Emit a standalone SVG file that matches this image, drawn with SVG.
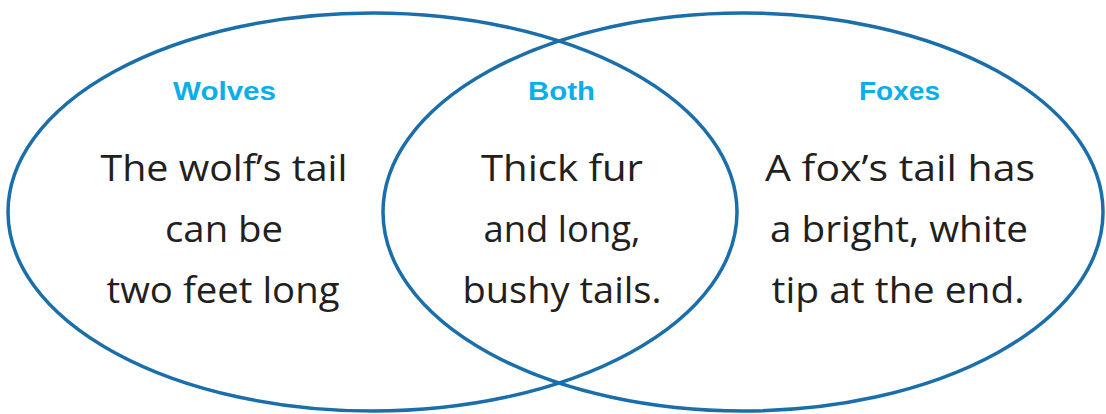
<svg xmlns="http://www.w3.org/2000/svg" width="1106" height="414" viewBox="0 0 1106 414">
<style>
.ring{fill:none;stroke:#1a6ea9;stroke-width:3.5}
.title{font-family:"Liberation Sans",Arial,sans-serif;font-weight:bold;font-size:26px;fill:#0aaee9;text-anchor:middle}
.body{font-family:"Open Sans","Liberation Sans",sans-serif;font-size:37px;fill:#231f20;text-anchor:middle}
</style>
<rect width="1106" height="414" fill="#ffffff"/>
<g id="wolves">
<ellipse class="ring" cx="372.5" cy="212" rx="364.5" ry="199"/>
<text class="title" x="224.5" y="100" textLength="103" lengthAdjust="spacingAndGlyphs">Wolves</text>
<text class="body" x="224" y="181" textLength="247" lengthAdjust="spacingAndGlyphs">The wolf’s tail</text>
<text class="body" x="224" y="242" textLength="118" lengthAdjust="spacingAndGlyphs">can be</text>
<text class="body" x="223" y="303" textLength="233" lengthAdjust="spacingAndGlyphs">two feet long</text>
</g>
<g id="foxes">
<ellipse class="ring" cx="743" cy="212" rx="360" ry="199"/>
<text class="title" x="899.5" y="100" textLength="81" lengthAdjust="spacingAndGlyphs">Foxes</text>
<text class="body" x="900" y="181" textLength="270" lengthAdjust="spacingAndGlyphs">A fox’s tail has</text>
<text class="body" x="899" y="242" textLength="258" lengthAdjust="spacingAndGlyphs">a bright, white</text>
<text class="body" x="898" y="303" textLength="253" lengthAdjust="spacingAndGlyphs">tip at the end.</text>
</g>
<g id="both">
<text class="title" x="561.5" y="100" textLength="67" lengthAdjust="spacingAndGlyphs">Both</text>
<text class="body" x="562" y="181" textLength="162" lengthAdjust="spacingAndGlyphs">Thick fur</text>
<text class="body" x="562" y="242" textLength="157" lengthAdjust="spacingAndGlyphs">and long,</text>
<text class="body" x="562" y="303" textLength="199" lengthAdjust="spacingAndGlyphs">bushy tails.</text>
</g>
<g id="connectors"></g>
</svg>
